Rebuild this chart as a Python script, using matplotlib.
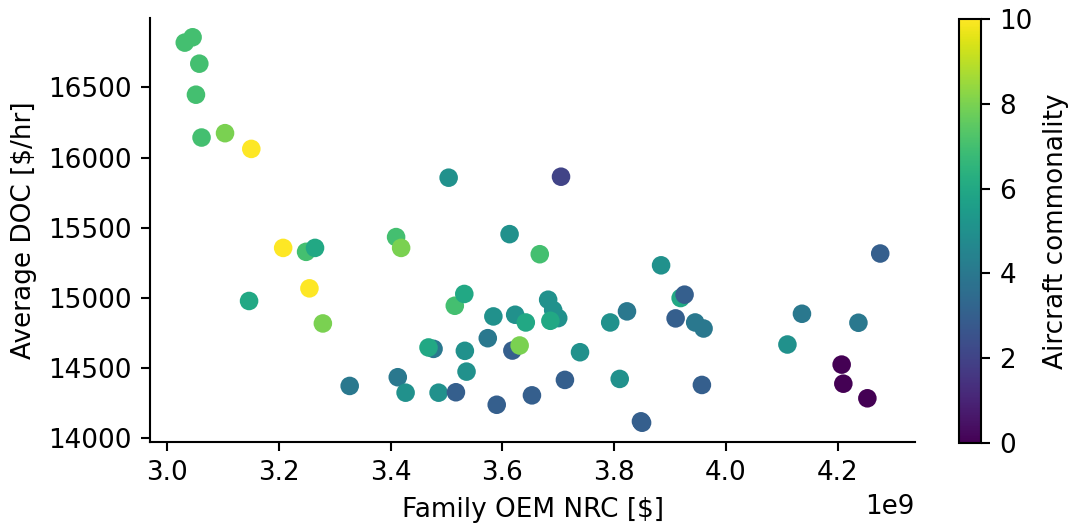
import matplotlib
matplotlib.use("Agg")
import matplotlib.pyplot as plt
import numpy as np

# Family OEM NRC [$] (in units of 1e9)
nrc_e9 = [3.032, 3.046, 3.058, 3.052, 3.062, 3.104, 3.151, 3.504, 3.208, 3.249,
          3.265, 3.410, 3.419, 3.255, 3.147, 3.279, 3.515, 3.477, 3.468, 3.327,
          3.413, 3.427, 3.486, 3.517, 3.705, 3.613, 3.667, 3.884, 3.532, 3.584,
          3.623, 3.642, 3.682, 3.691, 3.700, 3.686, 3.793, 3.823, 3.919, 3.926,
          3.910, 3.574, 3.533, 3.618, 3.631, 3.739, 3.536, 3.590, 3.653, 3.712,
          3.810, 3.848, 3.850, 3.945, 3.960, 3.957, 4.136, 4.110, 4.237, 4.276,
          4.207, 4.210, 4.253]
# Average DOC [$/hr]
doc = [16819, 16857, 16669, 16448, 16143, 16174, 16062, 15857, 15357, 15329,
       15357, 15434, 15357, 15069, 14979, 14819, 14945, 14638, 14648, 14374,
       14436, 14326, 14326, 14329, 15864, 15455, 15312, 15233, 15029, 14869,
       14881, 14826, 14988, 14914, 14857, 14838, 14826, 14905, 15000, 15024,
       14855, 14714, 14624, 14626, 14662, 14614, 14476, 14240, 14307, 14417,
       14424, 14122, 14112, 14826, 14783, 14381, 14888, 14669, 14824, 15317,
       14526, 14390, 14286]
# Aircraft commonality
commonality = [7, 7, 7, 7, 7, 8, 10, 5, 10, 7,
               6, 7, 8, 10, 6, 8, 7, 4, 6, 4,
               4, 5, 5, 3, 2, 5, 7, 5, 6, 5,
               5, 6, 5, 5, 5, 6, 5, 4, 6, 3,
               3, 4, 5, 3, 8, 5, 5, 3, 3, 3,
               5, 3, 3, 4, 4, 3, 4, 5, 4, 3,
               0, 0, 0]

x = np.array(nrc_e9) * 1e9
y = np.array(doc)
c = np.array(commonality)

W, H, DPI = 1074, 525, 189
fig = plt.figure(figsize=(W / DPI, H / DPI), dpi=DPI)
ax = fig.add_axes([150 / W, 1 - 442 / H, (915 - 150) / W, (442 - 18) / H])
cax = fig.add_axes([959 / W, 1 - 443 / H, 22 / W, (443 - 19) / H])

sc = ax.scatter(x, y, c=c, cmap="viridis", vmin=0, vmax=10, s=50, linewidths=0)

ax.set_xlabel("Family OEM NRC [$]", fontsize=10)
ax.set_ylabel("Average DOC [$/hr]", fontsize=10)
ax.tick_params(labelsize=10)
ax.xaxis.get_offset_text().set_fontsize(10)
for side in ["top", "right"]:
    ax.spines[side].set_visible(False)
ax.set_yticks([14000, 14500, 15000, 15500, 16000, 16500])

cb = fig.colorbar(sc, cax=cax)
cb.set_label("Aircraft commonality", fontsize=10)
cb.set_ticks([0, 2, 4, 6, 8, 10])
cb.ax.tick_params(labelsize=10)

fig.savefig("out.png", dpi=DPI)
